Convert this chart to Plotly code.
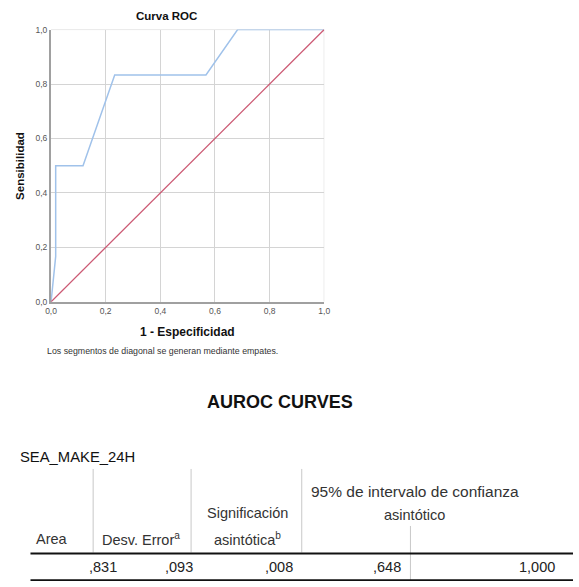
import plotly.graph_objects as go

# ---- data ----
roc_fpr = [0.0, 0.017, 0.017, 0.117, 0.233, 0.567, 0.683, 1.0]
roc_tpr = [0.0, 0.167, 0.5, 0.5, 0.833, 0.833, 1.0, 1.0]
ref_x = [0.0, 1.0]
ref_y = [0.0, 1.0]
tick_vals = [0.0, 0.2, 0.4, 0.6, 0.8, 1.0]
tick_text = ["0,0", "0,2", "0,4", "0,6", "0,8", "1,0"]

table_title = "SEA_MAKE_24H"
header_area = "Area"
header_err = "Desv. Error<sup>a</sup>"
header_sig_1 = "Significación"
header_sig_2 = "asintótica<sup>b</sup>"
header_ci_1 = "95% de intervalo de confianza"
header_ci_2 = "asintótico"
row_values = [",831", ",093", ",008", ",648", "1,000"]

W, H = 579, 587
FONT = "Liberation Sans, Arial, sans-serif"


def px(x):
    return x / W


def py(y):
    return 1 - y / H


fig = go.Figure()
fig.add_trace(go.Scatter(x=roc_fpr, y=roc_tpr, mode="lines",
                         line=dict(color="#a0c2ea", width=1.5), showlegend=False))
fig.add_trace(go.Scatter(x=ref_x, y=ref_y, mode="lines",
                         line=dict(color="#cc5a74", width=1.3), showlegend=False))

axis_common = dict(range=[0, 1], tickvals=tick_vals, ticktext=tick_text,
                   showgrid=True, gridcolor="#d4d4d4", gridwidth=1,
                   zeroline=False, ticks="", showline=True, linecolor="#a0a0a0",
                   linewidth=2, tickfont=dict(size=8.5, color="#555", family=FONT),
                   fixedrange=True)

fig.update_layout(
    autosize=True, margin=dict(l=0, r=0, t=0, b=0),
    paper_bgcolor="white", plot_bgcolor="white",
    xaxis=dict(domain=[px(46), px(325)], anchor="y", **axis_common),
    yaxis=dict(domain=[py(302), py(25)], anchor="x", **axis_common),
    font=dict(family=FONT),
)

fig.add_shape(type="line", xref="x", yref="y", x0=0, x1=1, y0=1, y1=1,
              line=dict(color="#d4d4d4", width=1), layer="below")
fig.add_shape(type="line", xref="x", yref="y", x0=1, x1=1, y0=0, y1=1,
              line=dict(color="#d4d4d4", width=1), layer="below")

ann = []


def text(x, y, s, size, bold=False, xanchor="center", color="#111", angle=0):
    if bold:
        s = "<b>" + s + "</b>"
    ann.append(dict(x=px(x), y=py(y), xref="paper", yref="paper", text=s,
                    showarrow=False, xanchor=xanchor, yanchor="middle",
                    textangle=angle,
                    font=dict(size=size, color=color, family=FONT)))


text(164, 11, "Curva ROC", 11.5, bold=True)
text(15, 164, "Sensibilidad", 11.5, bold=True, angle=-90)
text(185, 333, "1 - Especificidad", 12, bold=True)
text(40, 352, "Los segmentos de diagonal se generan mediante empates.", 8.8,
     xanchor="left", color="#333")
text(280, 404, "AUROC CURVES", 18, bold=True)
text(12, 460, table_title, 14.8, xanchor="left")

hdr = 14.5
hc = "#333"
text(47, 543, header_area, hdr, color=hc)
text(138, 543, header_err, hdr, color=hc)
text(247, 517, header_sig_1, hdr, color=hc)
text(247, 543, header_sig_2, hdr, color=hc)
text(309, 495, header_ci_1, 15.5, color=hc, xanchor="left")
text(417, 519, header_ci_2, hdr, color=hc)

val_right = [115, 193, 295, 405, 563]
for v, xr in zip(row_values, val_right):
    ann.append(dict(x=px(xr), y=py(572), xref="paper", yref="paper", text=v,
                    showarrow=False, xanchor="right", yanchor="middle",
                    font=dict(size=14.5, color="#222", family=FONT)))

fig.update_layout(annotations=ann)

shapes = []
for xv in [89, 189, 302]:
    shapes.append(dict(type="line", xref="paper", yref="paper",
                       x0=px(xv), x1=px(xv), y0=py(472), y1=py(557),
                       line=dict(color="#c8c8c8", width=1)))
shapes.append(dict(type="line", xref="paper", yref="paper",
                   x0=px(413), x1=px(413), y0=py(530), y1=py(585),
                   line=dict(color="#c8c8c8", width=1)))
shapes.append(dict(type="line", xref="paper", yref="paper",
                   x0=px(25), x1=px(579), y0=py(558), y1=py(558),
                   line=dict(color="#111", width=2.2)))
shapes.append(dict(type="line", xref="paper", yref="paper",
                   x0=px(25), x1=px(579), y0=py(585), y1=py(585),
                   line=dict(color="#111", width=1.8)))
for s in shapes:
    fig.add_shape(**s)

fig.write_html(
    "out.html",
    config={"displayModeBar": False, "responsive": True},
    default_width="100vw",
    default_height="100vh",
    post_script=(
        "document.body.style.margin='0';"
        "document.body.style.overflow='hidden';"
        "document.documentElement.style.overflow='hidden';"
    ),
)
